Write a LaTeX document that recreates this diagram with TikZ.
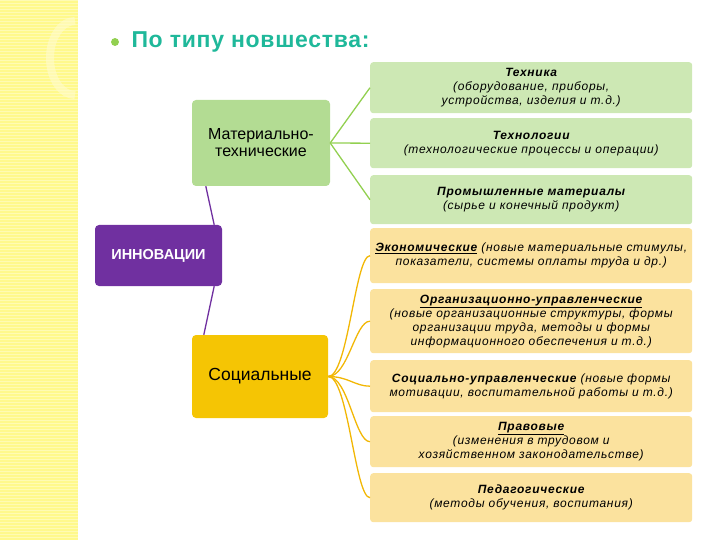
\documentclass[tikz,border=0pt]{standalone}
\usepackage{fontspec}
\setmainfont{Liberation Sans}
\begin{document}
\begin{tikzpicture}[x=1pt,y=-1pt,
  rb/.style={rounded corners=3pt,minimum width=322pt,text width=314pt,align=center,inner sep=2pt,font=\itshape\fontsize{12}{14}\selectfont\addfontfeature{LetterSpace=6},anchor=north west},
  gb/.style={rb,fill=gr},
  yb/.style={rb,fill=yl},
  gl/.style={draw=gl2,line width=1.3pt},
  yln/.style={draw=gold,line width=1.3pt},
  pl/.style={draw=purp,line width=1.3pt}]
\definecolor{gr}{HTML}{CDE8B4}
\definecolor{gr2}{HTML}{B3DC93}
\definecolor{gl2}{HTML}{92D050}
\definecolor{yl}{HTML}{FBE29E}
\definecolor{gold}{HTML}{F2B705}
\definecolor{purp}{HTML}{7030A0}
\definecolor{teal}{HTML}{1FB89A}
\useasboundingbox (0,0) rectangle (720,540);
\fill[yellow!45] (0,0) rectangle (78,540);
\foreach \y in {0,3,...,540} \draw[white!70!yellow,line width=0.6pt] (0,\y) -- (78,\y);
\draw[yellow!20,line width=8pt,opacity=0.6] (75,95) arc (90:270:25 and 37);
\node[circle,fill=gl2,inner sep=2.8pt] (bul) at (115,42) {};
\node[anchor=west,font=\bfseries\fontsize{23}{25}\selectfont\addfontfeature{LetterSpace=3},text=teal] (title) at (128,42) {По типу новшества:};
% main nodes
\node[fill=gr2,rounded corners=4pt,minimum width=138pt,minimum height=86pt,font=\fontsize{16}{17}\selectfont,align=center] (mat) at (261,143) {Материально-\\технические};
\node[fill=purp,rounded corners=4pt,minimum width=127pt,minimum height=61pt,text=white,font=\bfseries\fontsize{14.5}{16}\selectfont] (inn) at (158.5,255.5) {ИННОВАЦИИ};
\node[fill=gold!80!yellow,rounded corners=4pt,minimum width=136pt,minimum height=83pt,font=\fontsize{17.5}{19}\selectfont] (soc) at (260,376.5) {Социальные};
% right boxes
\node[gb,minimum height=51pt] (b1) at (370,62) {\textbf{Техника}\\(оборудование, приборы, устройства, изделия и т.д.)};
\node[gb,minimum height=50pt] (b2) at (370,118) {\textbf{Технологии}\\(технологические процессы и операции)};
\node[gb,minimum height=49pt] (b3) at (370,175) {\textbf{Промышленные материалы}\\(сырье и конечный продукт)};
\node[yb,minimum height=55pt] (b4) at (370,228) {\textbf{\underline{Экономические} }(новые материальные стимулы, показатели, системы оплаты труда и др.)};
\node[yb,minimum height=64pt] (b5) at (370,289) {\textbf{\underline{Организационно-управленческие}}\\(новые организационные структуры, формы организации труда, методы и формы информационного обеспечения и т.д.)};
\node[yb,minimum height=52pt] (b6) at (370,360) {\textbf{Социально-управленческие} (новые формы мотивации, воспитательной работы и т.д.)};
\node[yb,minimum height=51pt] (b7) at (370,416) {\textbf{\underline{Правовые}}\\(изменения в трудовом и хозяйственном законодательстве)};
\node[yb,minimum height=49pt] (b8) at (370,473) {\textbf{Педагогические}\\(методы обучения, воспитания)};
% connectors
\draw[pl] (inn.north east) ++(-8,0) -- ([xshift=14pt]mat.south west);
\draw[pl] (inn.south east) ++(-8,0) -- ([xshift=12pt]soc.north west);
\foreach \b in {b1,b2,b3} \draw[gl] (mat.east) -- (\b.west);
\foreach \b in {b4,b5,b6,b7,b8} \draw[yln] (soc.east) .. controls +(20,0) and +(-15,0) .. (\b.west);
\end{tikzpicture}
\end{document}
